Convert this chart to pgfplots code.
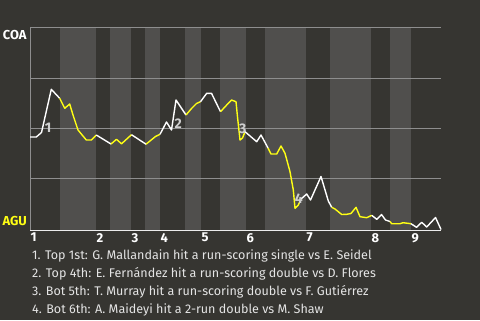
\documentclass[border=0pt]{standalone}
\usepackage{pgfplots}
\pgfplotsset{compat=1.18}
\usepackage{fontspec}
\setmainfont{Fira Sans}
\definecolor{bgc}{HTML}{363531}
\definecolor{bandc}{HTML}{504F4D}
\definecolor{gridc}{HTML}{8E8E8E}
\definecolor{ylw}{HTML}{FFFF14}
\definecolor{txtc}{HTML}{E4E4E4}
\definecolor{evc}{HTML}{CFCFCF}
\begin{document}
\begin{tikzpicture}[x=1bp,y=1bp]
\useasboundingbox (0,0) rectangle (480,320);
\fill[bgc] (0,0) rectangle (480,320);
\begin{axis}[
  at={(30bp,90bp)}, anchor=south west,
  scale only axis, width=411bp, height=202bp,
  xmin=30, xmax=441, ymin=28, ymax=230,
  y dir=reverse,
  axis x line=bottom, axis y line=left,
  axis line style={-, line width=1bp},
  x axis line style={draw=white!85!gray},
  y axis line style={draw=gridc},
  xtick={30,96,131,160,201,246,306,371,411},
  xticklabels={1,2,3,4,5,6,7,8,9},
  major tick length=0pt,
  xticklabel style={anchor=north west, inner sep=0pt, xshift=0.5bp, yshift=-3bp, font=\fontsize{13}{13}\selectfont\bfseries, text=white},
  ytick=\empty,
  /pgf/number format/assume math mode=true,
  clip=false,
]
% bands (bottom half-innings)
\fill[bandc] (axis cs:60,28) rectangle (axis cs:96,230);
\fill[bandc] (axis cs:110,28) rectangle (axis cs:131,230);
\fill[bandc] (axis cs:145,28) rectangle (axis cs:160,230);
\fill[bandc] (axis cs:185,28) rectangle (axis cs:201,230);
\fill[bandc] (axis cs:220,28) rectangle (axis cs:246,230);
\fill[bandc] (axis cs:265,28) rectangle (axis cs:306,230);
\fill[bandc] (axis cs:330,28) rectangle (axis cs:371,230);
\fill[bandc] (axis cs:390,28) rectangle (axis cs:411,230);
% grid lines
\foreach \g in {28,78,128,178}{
  \edef\tmp{\noexpand\draw[gridc, line width=1bp] (axis cs:30,\g) -- (axis cs:441,\g);}\tmp
}
% win probability line
\pgfplotsset{wl/.style={white, line width=1.4bp, line join=round}, yl/.style={ylw, line width=1.4bp, line join=round}}
\addplot[wl] coordinates {(30,137) (36.3,137) (41.5,132.5) (51.3,89.3) (59.7,98.3)};
\addplot[yl] coordinates {(59.7,98.3) (64.7,108.3) (69.7,104) (73,115) (78,130) (86.3,140) (91.3,140) (96.3,135)};
\addplot[wl] coordinates {(96.3,135) (111,144)};
\addplot[yl] coordinates {(111,144) (116.5,139.3) (121.5,143.8) (131.5,134.7)};
\addplot[wl] coordinates {(131.5,134.7) (146,144.2)};
\addplot[yl] coordinates {(146,144.2) (155.5,136.5) (160,134.3)};
\addplot[wl] coordinates {(160,134.3) (166.5,122) (171.5,130) (176,100) (186,115)};
\addplot[yl] coordinates {(186,115) (191.5,108.5) (196.5,103.5) (200.5,101.7)};
\addplot[wl] coordinates {(200.5,101.7) (206.7,93.3) (211.5,93.3) (220.5,111.7)};
\addplot[yl] coordinates {(220.5,111.7) (226.7,105) (231.5,100) (236,101.7) (237.5,117) (240,140) (242.5,138) (245,131.7)};
\addplot[wl] coordinates {(245,131.7) (256.7,141.7) (261,135) (268,148)};
\addplot[yl] coordinates {(268,148) (271,154) (276.7,154) (281,146) (285,153.3) (290,171.7) (293.3,190) (295,208.3) (298.3,205) (301,199)};
\addplot[wl] coordinates {(301,199) (306.7,194) (310.5,200) (321,176.5) (328.3,201) (331.7,207.3)};
\addplot[yl] coordinates {(331.7,207.3) (335,209) (341.7,214.5) (346.7,214.3) (351,213.5) (356,207.3) (360,216.7) (366.7,217.7) (371.7,215.3)};
\addplot[wl] coordinates {(371.7,215.3) (376.7,219.3) (381.5,214.5) (385.5,220) (390,221.5)};
\addplot[yl] coordinates {(390,221.5) (391.7,223.7) (400,223.7) (403,222.7) (411,223.7)};
\addplot[wl] coordinates {(411,223.7) (416.5,227.3) (421.7,222.3) (426.7,227) (435.5,217.5) (441,229.5)};
% event labels
\begin{scope}[every node/.style={font=\fontsize{14}{14}\selectfont\bfseries, text=evc, inner sep=0pt}]
\node at (axis cs:48,127.7) {1};
\node at (axis cs:178.3,123.3) {2};
\node at (axis cs:242.8,129) {3};
\node at (axis cs:298.8,198.7) {4};
\end{scope}
\end{axis}
\node[font=\fontsize{13}{13}\selectfont\bfseries, text=white, inner sep=0pt] at (14.7,284.7) {COA};
\node[font=\fontsize{13}{13}\selectfont\bfseries, text=ylw, inner sep=0pt] at (14.7,98.7) {AGU};
\begin{scope}[every node/.style={font=\fontsize{12.6}{13}\selectfont, text=txtc, inner sep=0pt, anchor=base west}]
\node at (32,61) {1. Top 1st: G. Mallandain hit a run-scoring single vs E. Seidel};
\node at (32,43) {2. Top 4th: E. Fernández hit a run-scoring double vs D. Flores};
\node at (32,25) {3. Bot 5th: T. Murray hit a run-scoring double vs F. Gutiérrez};
\node at (32,7) {4. Bot 6th: A. Maideyi hit a 2-run double vs M. Shaw};
\end{scope}
\end{tikzpicture}
\end{document}
